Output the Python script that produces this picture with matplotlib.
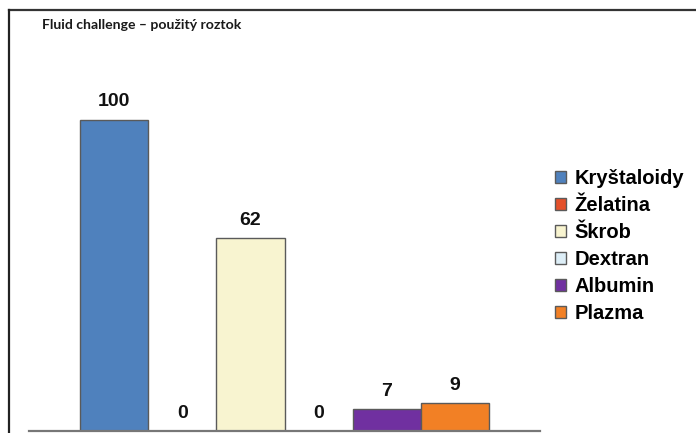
import matplotlib
matplotlib.use("Agg")
import matplotlib.pyplot as plt
from matplotlib.patches import Patch
from matplotlib.lines import Line2D

# Fluid used for the challenge (count of responses per solution)
series = ["Kryštaloidy", "Želatina", "Škrob", "Dextran", "Albumin", "Plazma"]
values = [100, 0, 62, 0, 7, 9]
colors = ["#4F81BD", "#E4502A", "#F8F4D0", "#DDEEF7", "#7030A0", "#F28025"]
title = "Fluid challenge – použitý roztok"

W, H = 696, 433
fig = plt.figure(figsize=(W / 100, H / 100), dpi=100)
fig.patch.set_facecolor("white")

# axes placed in pixel units (from top-left) then converted
ax_left, ax_right = 29, 540
ax_bottom_px, ax_top_px = 430.5, 57.3
ax = fig.add_axes([ax_left / W, (H - ax_bottom_px) / H,
                   (ax_right - ax_left) / W, (ax_bottom_px - ax_top_px) / H])

bold = dict(family=["Liberation Sans", "DejaVu Sans"], weight="bold")

n = len(series)
for i, (name, v, c) in enumerate(zip(series, values, colors)):
    x = i - (n - 1) / 2
    ax.bar(x, v, width=1.0, color=c, edgecolor="#5a5a5a", linewidth=1.0, zorder=2)
    ax.annotate(str(v), (x, v), xytext=(0, 12.6), textcoords="offset points",
                ha="center", va="center", fontsize=14, color="#111111", **bold)

ax.set_xlim(-3.755, 3.755)
ax.set_ylim(0, 120)
for s in ["top", "right", "left"]:
    ax.spines[s].set_visible(False)
ax.spines["bottom"].set_color("#777777")
ax.spines["bottom"].set_linewidth(1.6)
ax.set_xticks([])
ax.set_yticks([])
ax.patch.set_alpha(0)

# legend
handles = [Patch(facecolor=c, edgecolor="#5a5a5a", linewidth=1.0) for c in colors]
leg = fig.legend(handles, series, loc="upper left",
                 bbox_to_anchor=(555 / W, 1 - 169 / H),
                 frameon=False, prop=dict(size=14.5, **bold),
                 handlelength=0.55, handleheight=0.55, handletextpad=0.4,
                 labelspacing=0.4, borderaxespad=0, borderpad=0)

# title
fig.text(42 / W, 1 - 25 / H, title, ha="left", va="center", fontsize=10.1,
         family=["Lato", "DejaVu Sans"], weight="bold", color="#1a1a1a")

# frame lines along the top and left edges
fig.add_artist(Line2D([9 / W, 1.0], [1 - 10 / H, 1 - 10 / H], color="#333333",
                      linewidth=1.6, transform=fig.transFigure))
fig.add_artist(Line2D([9 / W, 9 / W], [1 - 10 / H, 0.0], color="#222222",
                      linewidth=1.6, transform=fig.transFigure))

fig.savefig("out.png", dpi=100, facecolor="white")
